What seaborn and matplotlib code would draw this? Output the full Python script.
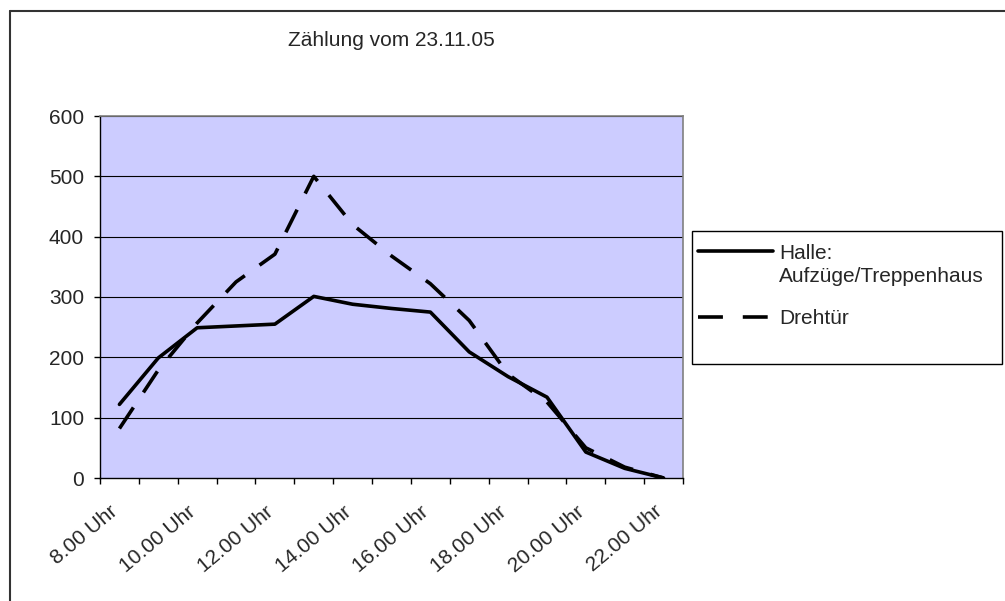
import numpy as np
import pandas as pd
import matplotlib
matplotlib.use("Agg")
import matplotlib.pyplot as plt
import matplotlib.transforms as mtransforms
from matplotlib.lines import Line2D
from matplotlib.patches import Rectangle
import seaborn as sns

# Data (Zählung vom 23.11.05)
hours = [f"{h}.00 Uhr" for h in range(8, 23)]
halle = [122, 199, 249, 252, 255, 301, 288, 281, 275, 209, 168, 134, 43, 16, 0]
drehtuer = [82, 179, 257, 325, 371, 500, 420, 368, 322, 261, 172, 126, 50, 18, 0]
series_names = ["Halle:\nAufzüge/Treppenhaus", "Drehtür"]
y_ticks = [0, 100, 200, 300, 400, 500, 600]

df = pd.DataFrame({
    "pos": list(range(len(hours))) * 2,
    "count": halle + drehtuer,
    "serie": [series_names[0]] * len(hours) + [series_names[1]] * len(hours),
})

sns.set_theme(style="white")
plt.rcParams["font.family"] = ["Liberation Sans", "DejaVu Sans"]
FS = 15
LW = 2.6
DASH = (7.0, 5.0)

W, H = 1005, 601
fig = plt.figure(figsize=(W / 100, H / 100), dpi=100)
fig.patch.set_facecolor("white")


def fx(x):
    return x / W


def fy(y):
    return 1 - y / H


# plot area in pixels: left 100, right 683, top 116, bottom 478
ax = fig.add_axes([fx(100), fy(478), fx(683) - fx(100), fy(116) - fy(478)])
ax.set_facecolor("#CCCCFF")

sns.lineplot(data=df, x="pos", y="count", hue="serie", style="serie",
             palette=["black", "black"],
             dashes={series_names[0]: "", series_names[1]: DASH},
             linewidth=LW, legend=False, ax=ax, zorder=3)

ax.set_xlim(-0.5, len(hours) - 0.5)
ax.set_ylim(0, 600)
ax.set_xlabel("")
ax.set_ylabel("")

# y axis
ax.set_yticks(y_ticks)
ax.set_yticklabels([str(v) for v in y_ticks], fontsize=FS)
ax.tick_params(axis="y", direction="out", length=4.5, width=1, color="black",
               pad=7, left=True)
for v in y_ticks[1:]:
    ax.axhline(v, color="black", lw=0.8, zorder=1)

# x axis: ticks on category borders, labels on every other category
ax.set_xticks(np.arange(-0.5, len(hours), 1.0))
ax.set_xticklabels([])
ax.tick_params(axis="x", which="major", direction="out", length=4.5, width=1,
               color="black", bottom=True)
ax.set_xticks(range(0, len(hours), 2), minor=True)
ax.set_xticklabels(hours[::2], minor=True, fontsize=FS, rotation=40,
                   ha="right", va="center", rotation_mode="anchor")
ax.tick_params(axis="x", which="minor", length=0, pad=22.5)
shift = mtransforms.ScaledTranslation(-4 / 100, 0, fig.dpi_scale_trans)
for lab in ax.get_xticklabels(minor=True):
    lab.set_transform(lab.get_transform() + shift)

for side in ["top", "right"]:
    ax.spines[side].set_color("#808080")
    ax.spines[side].set_linewidth(1.2)
for side in ["left", "bottom"]:
    ax.spines[side].set_color("black")
    ax.spines[side].set_linewidth(1)
    ax.spines[side].set_visible(True)

# title
fig.text(fx(391.5), fy(46.5), "Zählung vom 23.11.05", fontsize=FS,
         ha="center", va="baseline")

# outer chart border (only top and left visible in the crop)
fig.add_artist(Line2D([fx(10), fx(10)], [fy(11), 0], color="#333333", lw=1.5,
                      transform=fig.transFigure))
fig.add_artist(Line2D([fx(10), 1], [fy(11), fy(11)], color="#333333", lw=1.5,
                      transform=fig.transFigure))

# legend
fig.add_artist(Rectangle((fx(692), fy(364)), fx(1002) - fx(692), fy(231) - fy(364),
                         facecolor="white", edgecolor="black", lw=1,
                         transform=fig.transFigure))
fig.add_artist(Line2D([fx(698), fx(773)], [fy(251), fy(251)], color="black",
                      lw=LW, transform=fig.transFigure))
fig.add_artist(Line2D([fx(698), fx(770)], [fy(316.5), fy(316.5)], color="black",
                      lw=LW, dashes=(6.9, 5.5), transform=fig.transFigure))
fig.text(fx(779), fy(258.5), "Halle:", fontsize=FS, va="baseline")
fig.text(fx(779), fy(281.5), "Aufzüge/Treppenhaus", fontsize=FS, va="baseline")
fig.text(fx(779), fy(323.5), "Drehtür", fontsize=FS, va="baseline")

fig.savefig("out.png", dpi=100, facecolor="white")
